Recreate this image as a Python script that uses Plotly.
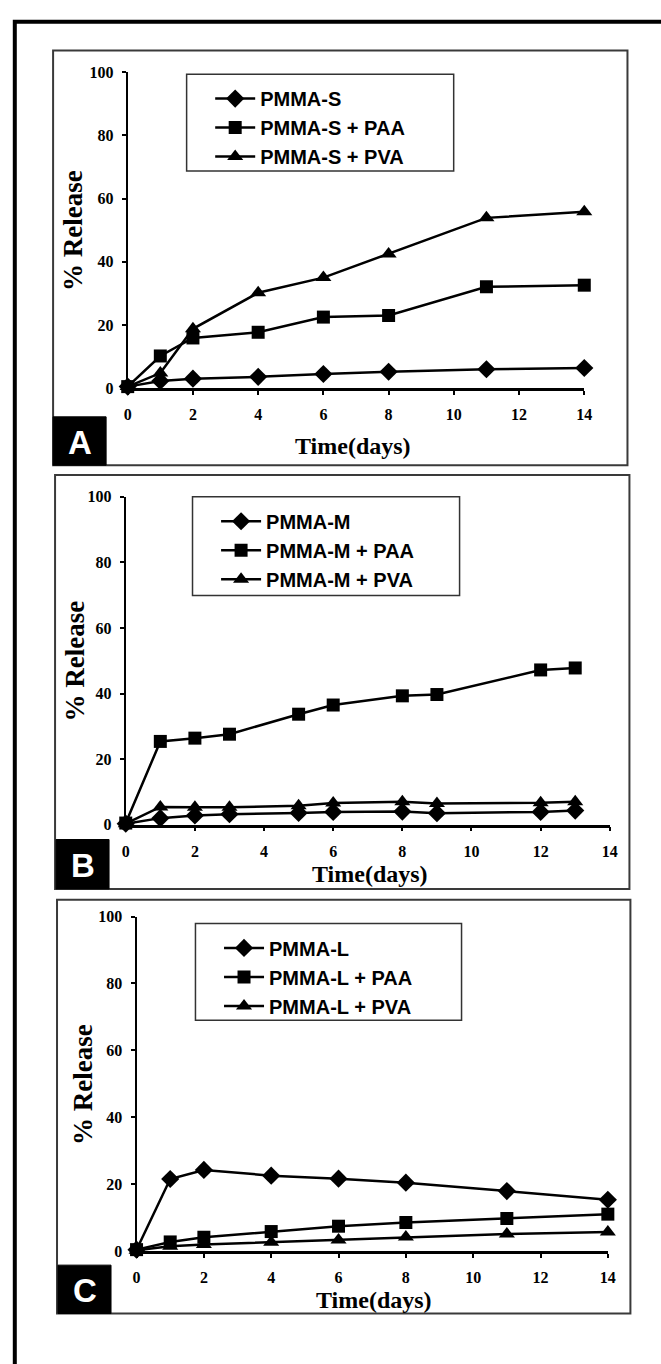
import plotly.graph_objects as go

W, H = 661, 1364

# ---------------- data ----------------
days_A = [0, 1, 2, 4, 6, 8, 11, 14]
pmma_s = [0.5, 2.3, 3.0, 3.6, 4.5, 5.2, 6.0, 6.4]
pmma_s_paa = [0.5, 10.2, 15.9, 17.7, 22.5, 23.0, 32.1, 32.6]
pmma_s_pva = [0.5, 4.8, 18.8, 30.2, 35.0, 42.5, 53.9, 55.8]

days_B = [0, 1, 2, 3, 5, 6, 8, 9, 12, 13]
pmma_m = [0.3, 2.0, 2.8, 3.2, 3.6, 3.9, 4.0, 3.5, 3.9, 4.3]
pmma_m_paa = [0.5, 25.4, 26.4, 27.6, 33.7, 36.5, 39.3, 39.7, 47.2, 47.8]
pmma_m_pva = [0.3, 5.4, 5.3, 5.3, 5.8, 6.6, 7.0, 6.5, 6.7, 7.0]

days_C = [0, 1, 2, 4, 6, 8, 11, 14]
pmma_l = [0.5, 21.6, 24.3, 22.6, 21.7, 20.5, 18.0, 15.4]
pmma_l_paa = [0.5, 2.8, 4.2, 5.9, 7.5, 8.6, 9.8, 11.1]
pmma_l_pva = [0.3, 1.5, 2.0, 2.7, 3.4, 4.3, 5.2, 5.8]

x_ticks = [0, 2, 4, 6, 8, 10, 12, 14]
y_ticks = [0, 20, 40, 60, 80, 100]

panels = [
    dict(name="A", days=days_A,
         series=[("PMMA-S", pmma_s, "diamond"), ("PMMA-S + PAA", pmma_s_paa, "square"),
                 ("PMMA-S + PVA", pmma_s_pva, "triangle-up")]),
    dict(name="B", days=days_B,
         series=[("PMMA-M", pmma_m, "diamond"), ("PMMA-M + PAA", pmma_m_paa, "square"),
                 ("PMMA-M + PVA", pmma_m_pva, "triangle-up")]),
    dict(name="C", days=days_C,
         series=[("PMMA-L", pmma_l, "diamond"), ("PMMA-L + PAA", pmma_l_paa, "square"),
                 ("PMMA-L + PVA", pmma_l_pva, "triangle-up")]),
]

# ---------------- layout geometry (pixels) ----------------
geo = [
    dict(ax=(126, 591), ay=(385, 65), box=(50, 43, 635, 463), lab=(50, 414, 104, 463),
         leg=(186, 67, 458, 165), xt=(355, 444), yt=(70, 225)),
    dict(ax=(124, 617), ay=(827, 495), box=(52, 473, 637, 892), lab=(53, 842, 107, 892),
         leg=(192, 495, 464, 595), xt=(373, 877), yt=(72, 661)),
    dict(ax=(135, 615), ay=(1259, 920), box=(54, 903, 638, 1322), lab=(55, 1273, 109, 1322),
         leg=(195, 927, 466, 1025), xt=(377, 1308), yt=(81, 1090)),
]

def px(x):
    return x / W

def py(y):
    return 1 - y / H

SERIF = "Liberation Serif, Times New Roman, serif"
SANS = "Liberation Sans, Arial, sans-serif"

fig = go.Figure()
shapes = []
annotations = []
layout = dict(width=W, height=H, margin=dict(l=0, r=0, t=0, b=0),
              paper_bgcolor="white", plot_bgcolor="rgba(0,0,0,0)", showlegend=True)

# outer frame (cropped at right/bottom)
shapes.append(dict(type="rect", xref="paper", yref="paper",
                   x0=px(11), x1=px(720), y0=py(14), y1=py(1420),
                   line=dict(color="black", width=4), layer="below"))

for i, (p, g) in enumerate(zip(panels, geo)):
    k = "" if i == 0 else str(i + 1)
    legname = "legend" if i == 0 else f"legend{i+1}"
    for name, vals, sym in p["series"]:
        fig.add_trace(go.Scatter(
            x=p["days"], y=vals, name=name, mode="lines+markers",
            line=dict(color="black", width=2.5),
            marker=dict(symbol=sym, size=14 if sym != "square" else 13, color="black"),
            xaxis="x" + k, yaxis="y" + k, legend=legname, cliponaxis=False))

    layout["xaxis" + k] = dict(
        domain=[px(g["ax"][0]), px(g["ax"][1])], range=[0, 14], anchor="y" + k,
        tickvals=x_ticks, ticks="outside", ticklen=4, tickwidth=1.5, tickcolor="black",
        showline=True, linewidth=2.5, linecolor="black", showgrid=False, zeroline=False,
        tickfont=dict(family=SERIF, size=16, color="black", weight="bold"),
        ticklabelstandoff=6, fixedrange=True)
    layout["yaxis" + k] = dict(
        domain=[py(g["ay"][0]), py(g["ay"][1])], range=[0, 100], anchor="x" + k,
        tickvals=y_ticks, ticks="outside", ticklen=4, tickwidth=1.5, tickcolor="black",
        showline=True, linewidth=2, linecolor="black", showgrid=False, zeroline=False,
        tickfont=dict(family=SERIF, size=16, color="black", weight="bold"),
        ticklabelstandoff=5, fixedrange=True)

    bx0, by0, bx1, by1 = g["box"]
    shapes.append(dict(type="rect", xref="paper", yref="paper",
                       x0=px(bx0), x1=px(bx1), y0=py(by0), y1=py(by1),
                       line=dict(color="#3a3a3a", width=2), layer="below"))
    lx0, ly0, lx1, ly1 = g["lab"]
    shapes.append(dict(type="rect", xref="paper", yref="paper",
                       x0=px(lx0), x1=px(lx1), y0=py(ly0), y1=py(ly1),
                       line=dict(color="black", width=1), fillcolor="black", layer="below"))
    annotations.append(dict(text=p["name"], xref="paper", yref="paper",
                            x=px((lx0 + lx1) / 2), y=py((ly0 + ly1) / 2 + 1),
                            xanchor="center", yanchor="middle", showarrow=False,
                            font=dict(family=SANS, size=33, color="white", weight="bold")))
    gx0, gy0, gx1, gy1 = g["leg"]
    shapes.append(dict(type="rect", xref="paper", yref="paper",
                       x0=px(gx0), x1=px(gx1), y0=py(gy0), y1=py(gy1),
                       line=dict(color="#333333", width=1.5), layer="below"))
    layout[legname] = dict(x=px(gx0 + 24), y=py(gy0 + 5), xanchor="left", yanchor="top",
                           bgcolor="rgba(0,0,0,0)", borderwidth=0, itemwidth=40,
                           font=dict(family=SANS, size=20, color="black", weight="bold"),
                           tracegroupgap=0, traceorder="normal")
    annotations.append(dict(text="Time(days)", xref="paper", yref="paper",
                            x=px(g["xt"][0]), y=py(g["xt"][1]), xanchor="center", yanchor="middle",
                            showarrow=False,
                            font=dict(family=SERIF, size=24, color="black", weight="bold")))
    annotations.append(dict(text="% Release", xref="paper", yref="paper",
                            x=px(g["yt"][0]), y=py(g["yt"][1]), xanchor="center", yanchor="middle",
                            textangle=-90, showarrow=False,
                            font=dict(family=SERIF, size=27, color="black", weight="bold")))

layout["shapes"] = shapes
layout["annotations"] = annotations
fig.update_layout(**layout)
fig.write_html("out.html", config={"displayModeBar": False},
               post_script="document.body.style.margin='0';document.body.style.overflow='hidden';")
